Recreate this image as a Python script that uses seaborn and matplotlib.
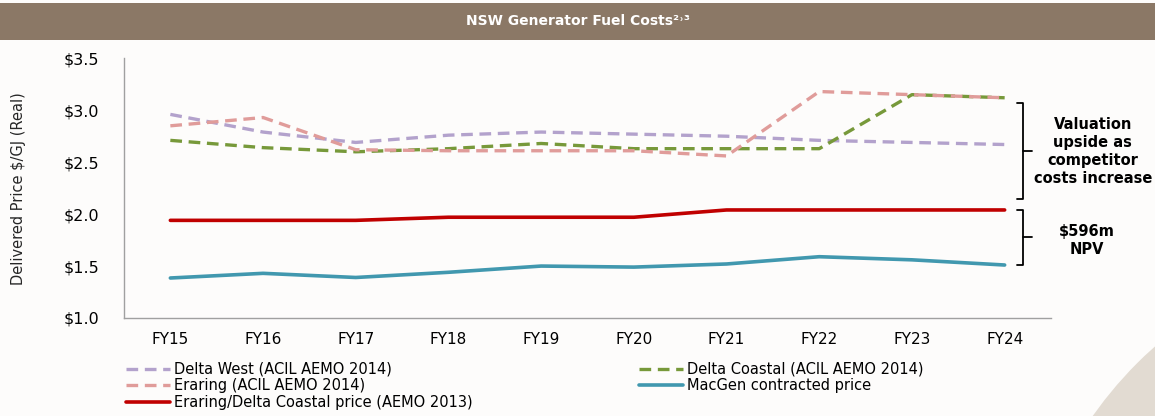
import numpy as np
import pandas as pd
import matplotlib
matplotlib.use('Agg')
import matplotlib.pyplot as plt
from matplotlib.patches import Rectangle, Circle
import matplotlib.transforms as mtransforms
import seaborn as sns

# data
years = ['FY15', 'FY16', 'FY17', 'FY18', 'FY19', 'FY20', 'FY21', 'FY22', 'FY23', 'FY24']
delta_west = [2.96, 2.79, 2.69, 2.76, 2.79, 2.77, 2.75, 2.71, 2.69, 2.67]
eraring = [2.85, 2.93, 2.62, 2.61, 2.61, 2.61, 2.56, 3.18, 3.15, 3.12]
delta_coastal = [2.71, 2.64, 2.60, 2.63, 2.68, 2.63, 2.63, 2.63, 3.15, 3.12]
eraring_dc_price = [1.94, 1.94, 1.94, 1.97, 1.97, 1.97, 2.04, 2.04, 2.04, 2.04]
macgen = [1.385, 1.43, 1.39, 1.44, 1.50, 1.49, 1.52, 1.59, 1.56, 1.51]
y_ticks = [1.0, 1.5, 2.0, 2.5, 3.0, 3.5]

sns.set_style('white')
plt.rcParams['font.family'] = ['DejaVu Sans']
plt.rcParams['text.color'] = 'black'
plt.rcParams['xtick.color'] = '#A0A0A0'
plt.rcParams['ytick.color'] = '#A0A0A0'
plt.rcParams['xtick.labelcolor'] = 'black'
plt.rcParams['ytick.labelcolor'] = 'black'

bg = '#FDFCFB'
fig = plt.figure(figsize=(11.55, 4.16), dpi=100, facecolor=bg)

# decorations: header band and corner shape
fig.patches.append(Rectangle((0, 1 - 40 / 416), 1, 37 / 416, transform=fig.transFigure,
                             facecolor='#8B7866', edgecolor='none', zorder=0))
fig.patches.append(Circle((1420, -230), 400, transform=None,
                          facecolor='#E2DBD2', edgecolor='none', zorder=0))
fig.text(0.5, 1 - 21 / 416, 'NSW Generator Fuel Costs²˒³', color='white', fontsize=10,
         fontweight='bold', ha='center', va='center')

ax = fig.add_axes([124 / 1155, 1 - 318 / 416, 927 / 1155, (318 - 58.3) / 416])
ax.set_facecolor(bg)
ax.patch.set_alpha(0)

dash = (3.5, 2)
styles = [
    ('Delta West (ACIL AEMO 2014)', delta_west, '#B3A2CC', dash),
    ('Eraring (ACIL AEMO 2014)', eraring, '#E09C9A', dash),
    ('Eraring/Delta Coastal price (AEMO 2013)', eraring_dc_price, '#C00000', None),
    ('Delta Coastal (ACIL AEMO 2014)', delta_coastal, '#77993A', dash),
    ('MacGen contracted price', macgen, '#4198AF', None),
]
draw_order = [4, 2, 0, 3, 1]
lines = {}
for i in draw_order:
    name, vals, col, ds = styles[i]
    sns.lineplot(x=years, y=vals, ax=ax, color=col, linewidth=2.6, sort=False,
                 label=name, legend=False)
    ln = ax.get_lines()[-1]
    if ds is not None:
        ln.set_dashes(ds)
        ln.set_linewidth(2.4)
    lines[i] = ln

ax.set_xlim(-0.5, len(years) - 0.5)
ax.set_ylim(1.0, 3.5)
ax.set_yticks(y_ticks)
ax.set_yticklabels(['\\${:.1f}'.format(v) for v in y_ticks], fontsize=11.5)
ax.set_xticks(range(len(years)))
ax.set_xticklabels(years, fontsize=11)
ax.set_xticks(np.arange(-0.5, len(years), 1), minor=True)
ax.tick_params(axis='x', which='major', length=0, pad=10)
ax.tick_params(axis='x', which='minor', length=5, width=1, direction='out')
ax.tick_params(axis='y', length=4, width=1, direction='out', pad=14)
for s in ['top', 'right']:
    ax.spines[s].set_visible(False)
for s in ['left', 'bottom']:
    ax.spines[s].set_color('#A0A0A0')
    ax.spines[s].set_linewidth(1)
ax.set_xlabel('')
ax.set_ylabel('Delivered Price \\$/GJ (Real)', fontsize=10.5, labelpad=27)

# brackets with notes
tr = mtransforms.blended_transform_factory(ax.transAxes, ax.transData)

def brace(y0, y1):
    xa, xb, xc = 0.963, 0.970, 0.979
    ym = (y0 + y1) / 2
    ax.plot([xa, xb, xb, xa], [y0, y0, y1, y1], color='black', lw=1.3,
            transform=tr, clip_on=False)
    ax.plot([xb, xc], [ym, ym], color='black', lw=1.3, transform=tr, clip_on=False)

brace(3.07, 2.15)
brace(eraring_dc_price[-1], macgen[-1])
ax.text(1.045, 2.60, 'Valuation\nupside as\ncompetitor\ncosts increase', transform=tr,
        ha='center', va='center', fontsize=10.5, fontweight='bold', linespacing=1.25)
ax.text(1.039, 1.745, '\\$596m\nNPV', transform=tr, ha='center', va='center',
        fontsize=10.5, fontweight='bold', linespacing=1.2)

handles = [lines[i] for i in range(5)]
labels = [styles[i][0] for i in range(5)]
fig.legend(handles, labels, ncol=2, loc='upper left', bbox_to_anchor=(0.103, 0.148),
           frameon=False, fontsize=10.5, handlelength=3, handletextpad=0.3,
           columnspacing=11.4, labelspacing=0.1, borderpad=0)

fig.savefig('out.png', dpi=100, facecolor=bg)
